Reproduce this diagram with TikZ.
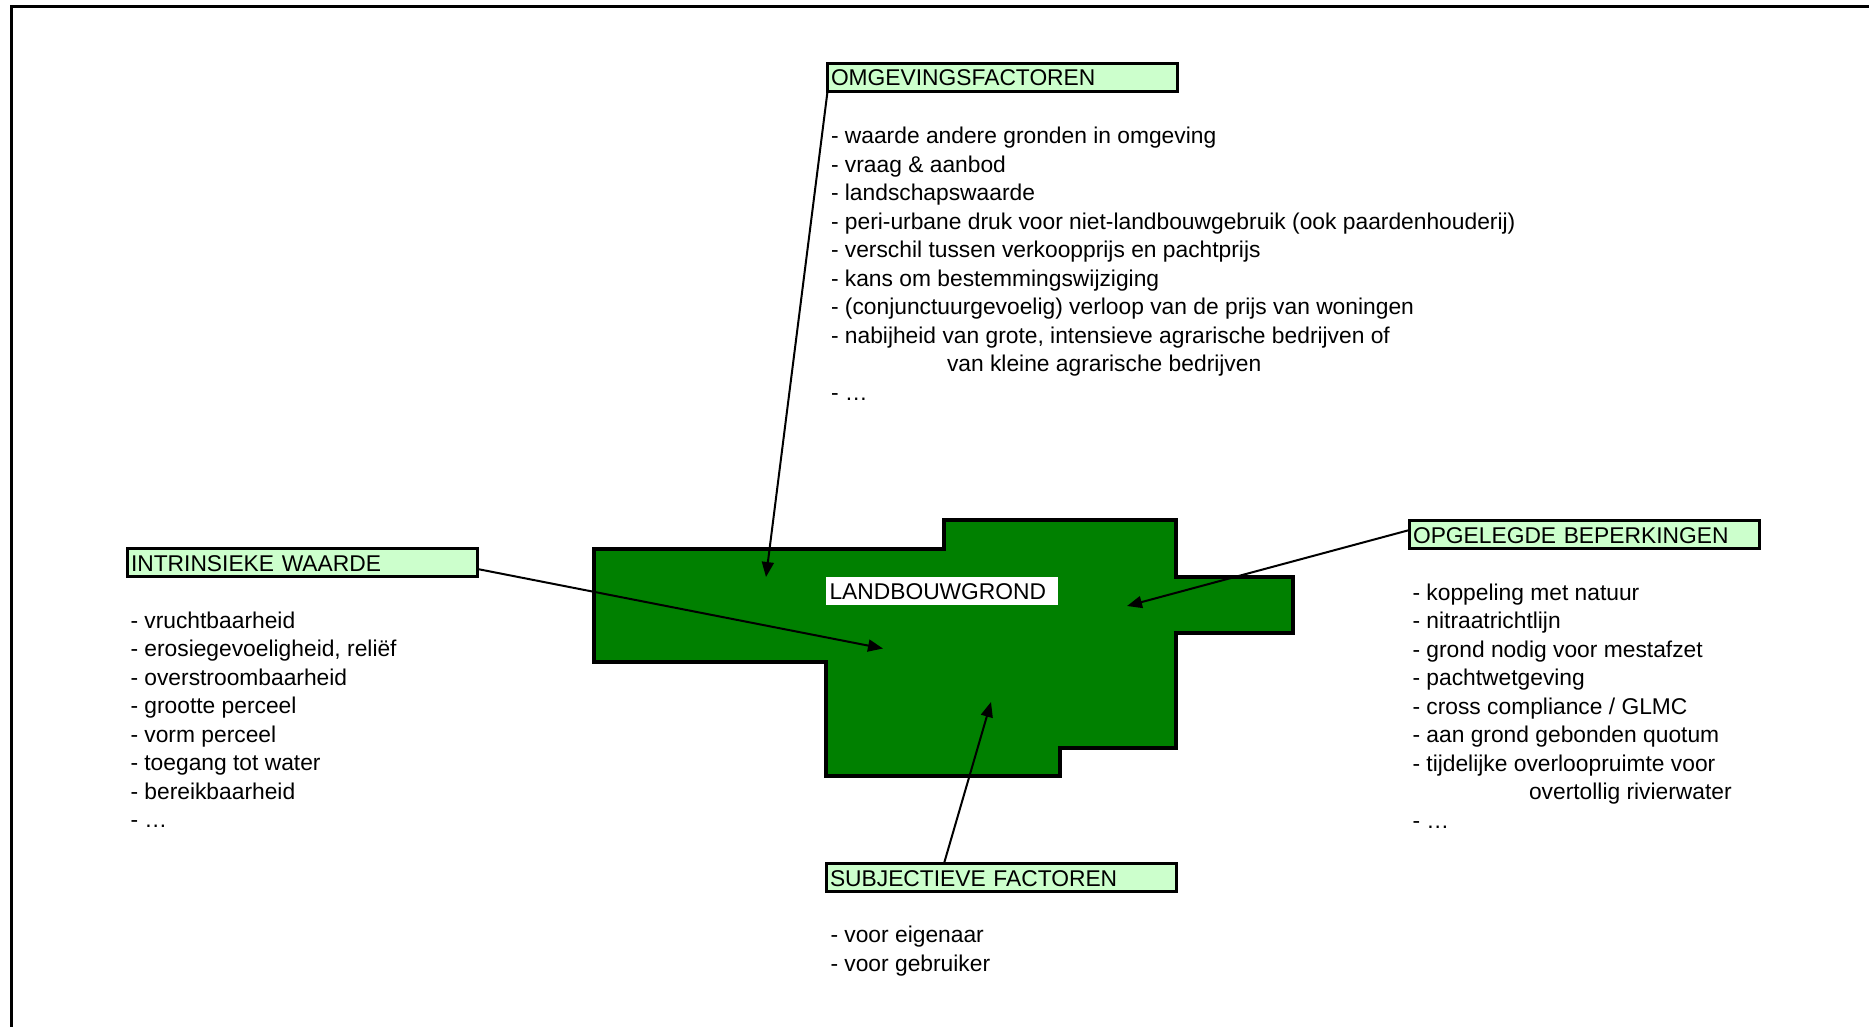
\documentclass[tikz,border=0pt]{standalone}
\usepackage{fontspec}
\setmainfont{Liberation Sans}
\usetikzlibrary{arrows.meta,calc}
\definecolor{fieldgreen}{RGB}{0,128,0}
\definecolor{labelgreen}{RGB}{204,255,204}
\begin{document}
\begin{tikzpicture}[x=1pt,y=-1pt,
  every node/.style={font=\fontsize{22.8}{28.5}\selectfont, inner sep=0pt, outer sep=0pt},
  labelbox/.style={draw=black, line width=3pt, fill=labelgreen, anchor=north west,
    minimum height=28pt, text height=19pt, text depth=2pt, inner xsep=3.5pt,
    text width=343pt, align=left},
  fieldlabel/.style={fill=white, anchor=north west, minimum height=28pt,
    text height=19pt, text depth=3pt, inner xsep=3.5pt, text width=225pt, align=left},
  listtext/.style={anchor=base west},
  conn/.style={line width=2pt, -{Triangle[length=15pt,width=12pt]}},
  frameline/.style={line width=3pt, line join=miter},
  field/.style={draw=black, line width=3.5pt, fill=fieldgreen, line join=miter}]
\useasboundingbox (0,0) rectangle (1869,1027);
% frame
\draw[frameline] (11.5,1030) -- (11.5,6.5) -- (1872,6.5);
% field
\draw[field] (594,549) -- (944,549) -- (944,520) -- (1176,520) -- (1176,577)
  -- (1293,577) -- (1293,633) -- (1176,633) -- (1176,748) -- (1060,748)
  -- (1060,776) -- (826,776) -- (826,662) -- (594,662) -- cycle;
\node[fieldlabel] (land) at (826,577) {LANDBOUWGROND};
% label boxes
\node[labelbox] (omg) at (827.5,63.5) {OMGEVINGSFACTOREN};
\node[labelbox] (intr) at (127.5,548.5) {INTRINSIEKE WAARDE};
\node[labelbox] (opg) at (1409.5,520.5) {OPGELEGDE BEPERKINGEN};
\node[labelbox] (subj) at (826.5,863.5) {SUBJECTIEVE FACTOREN};
% lists
\node[listtext] (omglist) at (831,144) {\begin{tabular}[t]{@{}l@{}}
- waarde andere gronden in omgeving\\
- vraag \& aanbod\\
- landschapswaarde\\
- peri-urbane druk voor niet-landbouwgebruik (ook paardenhouderij)\\
- verschil tussen verkoopprijs en pachtprijs\\
- kans om bestemmingswijziging\\
- (conjunctuurgevoelig) verloop van de prijs van woningen\\
- nabijheid van grote, intensieve agrarische bedrijven of\\
\hspace*{116pt}van kleine agrarische bedrijven\\
- …
\end{tabular}};
\node[listtext] (intrlist) at (130.5,628) {\begin{tabular}[t]{@{}l@{}}
- vruchtbaarheid\\
- erosiegevoeligheid, reliëf\\
- overstroombaarheid\\
- grootte perceel\\
- vorm perceel\\
- toegang tot water\\
- bereikbaarheid\\
- …
\end{tabular}};
\node[listtext] (opglist) at (1412.5,600) {\begin{tabular}[t]{@{}l@{}}
- koppeling met natuur\\
- nitraatrichtlijn\\
- grond nodig voor mestafzet\\
- pachtwetgeving\\
- cross compliance / GLMC\\
- aan grond gebonden quotum\\
- tijdelijke overloopruimte voor\\
\hspace*{116.5pt}overtollig rivierwater\\
- …
\end{tabular}};
\node[listtext] (subjlist) at (830.5,942.5) {\begin{tabular}[t]{@{}l@{}}
- voor eigenaar\\
- voor gebruiker
\end{tabular}};
% arrow targets
\coordinate (tO) at (766,577);
\coordinate (tI) at (883,648.5);
\coordinate (tP) at (1127,606);
\coordinate (tS) at (991,702);
% connectors
\draw[conn] (omg.south west) -- (tO);
\draw[conn] ($(intr.east)+(0,6.5)$) -- (tI);
\draw[conn] ($(opg.west)+(0,-4.5)$) -- (tP);
\draw[conn] ($(subj.north)+(-57.5,0)$) -- (tS);
\end{tikzpicture}
\end{document}
